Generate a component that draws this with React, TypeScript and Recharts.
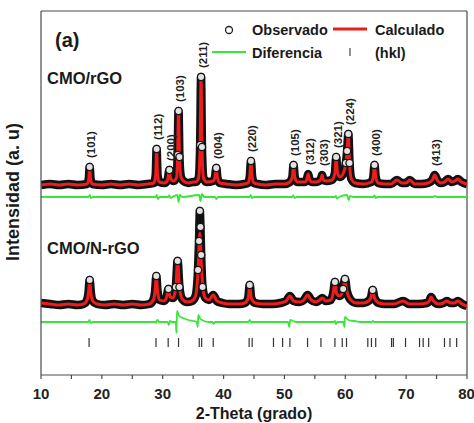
import React from 'react';
import { ComposedChart, Line, Scatter, XAxis, YAxis, ReferenceLine } from 'recharts';

// 2θ (deg) vs. intensity (a. u.) above baseline, CMO/rGO
const obsTop: [number, number][] = [
  [10, 0], [11.5, 1], [13, 0], [14.5, 1], [16, 0], [17.55, 1], [17.85, 6], [18.0, 18], [18.15, 6], [18.45, 1],
  [20, 0], [21.5, 1], [23, 0], [24.5, 1], [26, 0], [27.5, 1], [28.55, 2], [28.85, 10], [29.0, 36], [29.15, 10],
  [29.45, 3], [30.3, 2], [30.8, 5], [31.1, 15], [31.3, 6], [31.8, 4], [32.3, 8], [32.45, 30], [32.6, 74], [32.75, 28],
  [33.0, 8], [33.4, 4], [34.2, 2], [35.0, 3], [35.4, 3], [35.9, 7], [36.15, 40], [36.3, 108], [36.45, 38], [36.7, 7],
  [37.2, 3], [38.3, 4], [38.6, 8], [38.8, 17], [39.0, 7], [39.4, 2], [40.5, 1], [42, 0], [43.4, 1], [44.0, 2],
  [44.3, 8], [44.5, 24], [44.7, 8], [45.0, 2], [45.6, 1], [47, 0], [48.5, 1], [50, 1], [50.9, 3], [51.3, 8],
  [51.5, 20], [51.7, 8], [52.1, 3], [53.0, 3], [53.4, 3], [53.7, 6], [53.9, 11], [54.1, 6], [54.5, 3], [55.2, 3],
  [55.7, 4], [56.0, 6], [56.2, 10], [56.4, 5], [56.9, 4], [57.8, 5], [58.3, 12], [58.5, 28], [58.7, 13], [59.1, 8],
  [59.7, 12], [60.1, 22], [60.3, 34], [60.5, 51], [60.7, 22], [61.0, 6], [61.6, 2], [63, 1], [64.3, 3], [64.6, 8],
  [64.8, 20], [65.0, 8], [65.4, 2], [66.5, 1], [67.5, 1], [68.5, 5], [69.3, 2], [70.0, 2], [70.6, 5], [71.4, 1],
  [72.5, 1], [73.6, 2], [74.3, 5], [74.7, 10], [75.1, 5], [75.7, 2], [76.3, 3], [76.9, 6], [77.5, 3], [78.0, 4],
  [78.5, 6], [79.1, 3], [80, 1],
];
// the refined profile sits on top of the observed one for this sample
const calcTop = obsTop;

const diffTop: [number, number][] = [
  [10, 0], [17.8, 0], [18.0, 2], [18.2, -1], [18.5, 0], [28.8, 0], [29.0, 2], [29.2, -2], [29.5, 0], [30.9, 0],
  [31.1, 1.5], [31.3, -1], [31.6, 0], [32.4, 2], [32.6, -5], [32.8, 2], [33.2, 0], [36.0, 2], [36.2, -4], [36.45, 3],
  [36.8, 0], [38.6, 0], [38.8, -2], [39.1, 0], [44.3, 0], [44.45, 2], [44.65, -1], [45, 0], [51.3, 0], [51.45, 1.5],
  [51.7, -1], [52, 0], [58.3, 0], [58.45, 1], [58.65, -1.5], [59, 0], [60.3, 2], [60.55, -3], [60.8, 1], [61.3, 0],
  [64.6, 0], [64.8, 1.5], [65.0, -1], [65.3, 0], [74.5, 0], [74.7, 1], [75, 0], [80, 0],
];

// CMO/N-rGO
const obsBot: [number, number][] = [
  [10, 2], [11.5, 1], [13, 0], [14.5, 1], [16, 0], [17.0, 1], [17.5, 4], [17.8, 12], [18.0, 25], [18.2, 12],
  [18.5, 4], [19.2, 1], [20.5, 0], [22, 1], [23.5, 0], [25, 1], [26.5, 0], [27.8, 1], [28.45, 5], [28.75, 14],
  [28.95, 29], [29.15, 14], [29.5, 5], [30.2, 4], [30.6, 7], [30.95, 16], [31.25, 8], [31.7, 7], [32.15, 18], [32.45, 44],
  [32.75, 18], [33.2, 6], [34.0, 3], [34.8, 4], [35.4, 9], [35.8, 35], [35.97, 64], [36.1, 94], [36.2, 78], [36.32, 50],
  [36.55, 18], [37.0, 7], [37.6, 5], [38.3, 10], [38.9, 4], [39.8, 2], [41, 1], [42.5, 1], [43.5, 2], [44.05, 7],
  [44.3, 20], [44.55, 7], [45.2, 2], [46.5, 1], [48, 1], [49.3, 2], [50.3, 4], [50.9, 9], [51.5, 4], [52.5, 3],
  [53.2, 5], [53.8, 10], [54.4, 5], [55.2, 3], [55.8, 5], [56.2, 7], [56.8, 4], [57.6, 5], [58.05, 13], [58.3, 23],
  [58.6, 11], [59.1, 9], [59.65, 16], [59.95, 26], [60.25, 14], [60.9, 5], [61.8, 2], [63, 2], [63.8, 4], [64.25, 8],
  [64.5, 15], [64.8, 7], [65.5, 2], [66.5, 1], [68, 1], [69.5, 4], [70.5, 1], [72, 1], [73.4, 2], [73.8, 4],
  [74.1, 8], [74.5, 4], [75.3, 1], [76.1, 2], [76.7, 4], [77.3, 2], [77.9, 2], [78.5, 4], [79.2, 1], [80, -1],
];
// refined (211) reflection falls short of the observed maximum
const calcBot211: [number, number][] = [
  [35.4, 9], [35.8, 33], [36.1, 72], [36.38, 36], [36.7, 13], [37.0, 7],
];
const calcBot: [number, number][] = [
  ...obsBot.filter(([t]) => t < 35.4),
  ...calcBot211,
  ...obsBot.filter(([t]) => t > 37.0),
];

const diffBot: [number, number][] = [
  [10, 0], [17.8, 0], [17.95, 2], [18.15, -1], [18.5, 0], [28.7, 0], [28.9, -1], [29.1, 2], [29.4, 0], [30.8, 0],
  [31.0, -3], [31.2, 1], [31.5, 0], [32.15, 0], [32.25, -11], [32.35, 11], [32.7, 6], [33.3, 4], [34.2, 2], [35.0, 1],
  [35.6, 0], [35.75, -5], [35.85, 7], [36.2, 3], [36.8, 1], [37.5, 0], [38.2, 0], [38.35, -2], [38.6, 0], [44.1, 0],
  [44.3, 2], [44.5, 0], [50.6, 0], [50.8, -5], [50.95, 2], [51.4, 1], [52.0, 0], [58.1, 0], [58.3, 1], [58.45, -2],
  [58.7, 0], [59.7, 0], [59.85, -5], [59.95, 5], [60.5, 2], [61.5, 1], [62.5, 0], [64.4, 0], [64.55, 1], [64.75, 0],
  [80, 0],
];

// Bragg positions
const hklTicks = [
  17.9, 28.9, 30.9, 32.6, 36.0, 36.4, 38.3, 44.2, 44.7, 48.2, 49.7, 50.9, 53.8, 56.0, 58.3,
  59.5, 60.2, 63.7, 64.3, 65.0, 67.6, 67.9, 69.9, 72.2, 72.8, 73.7, 76.3, 77.2, 78.3,
];

const hklNames = ['(101)', '(112)', '(200)', '(103)', '(211)', '(004)', '(220)', '(105)', '(312)', '(303)', '(321)', '(224)', '(400)', '(413)'];
const hklAt = [18.0, 29.0, 31.1, 32.6, 36.3, 38.8, 44.5, 51.5, 53.9, 56.2, 58.5, 60.5, 64.8, 74.7];

const xTicks = [10, 15, 20, 25, 30, 35, 40, 45, 50, 55, 60, 65, 70, 75, 80];

// vertical stacking of the two patterns and their difference curves
const TOP_SHIFT = 190;
const TOP_DIFF_SHIFT = 178;
const BOT_SHIFT = 70;
const BOT_DIFF_SHIFT = 53;
const HKL_LEVEL = 32.5;
const LABEL_GAP = 9;

const FONT = '"Liberation Sans", Arial, sans-serif';
const RED = '#ee1c1c';
const GREEN = '#38e638';
const AXIS = '#4a4a4a';

const rows = (pts: [number, number][], shift: number) => pts.map(([t, v]) => ({ t, v: v + shift }));

const obsTopRows = rows(obsTop, TOP_SHIFT);
const calcTopRows = rows(calcTop, TOP_SHIFT);
const diffTopRows = rows(diffTop, TOP_DIFF_SHIFT);
const obsBotRows = rows(obsBot, BOT_SHIFT);
const calcBotRows = rows(calcBot, BOT_SHIFT);
const diffBotRows = rows(diffBot, BOT_DIFF_SHIFT);
const hklRows = hklTicks.map((t) => ({ t, v: HKL_LEVEL }));

const labelRows = hklNames.map((name, i) => {
  const near = obsTop.filter(([t]) => Math.abs(t - hklAt[i]) < 0.25).map(([, v]) => v);
  return { t: hklAt[i], v: TOP_SHIFT + Math.max(...near) + LABEL_GAP, name };
});

// hollow markers for the observed points around the reflections
const obsDot = (shift: number) => (p: any) => {
  const key = `o-${shift}-${p.index}`;
  if (p.payload.v - shift < 15) return <g key={key} />;
  return <circle key={key} cx={p.cx} cy={p.cy} r={3.6} fill="#e2e2e2" stroke="#161616" strokeWidth={1.3} />;
};

const HklMark = (p: any) => (
  <line x1={p.cx} x2={p.cx} y1={p.cy - 4.5} y2={p.cy + 4.5} stroke="#333" strokeWidth={1.2} />
);

const PeakLabel = (p: any) => {
  const x = p.cx + 1.5;
  return (
    <text
      x={x}
      y={p.cy}
      transform={`rotate(-90 ${x} ${p.cy})`}
      textAnchor="start"
      dominantBaseline="central"
      fontFamily={FONT}
      fontSize={11.5}
      fontWeight="bold"
      fill="#222"
    >
      {p.payload.name}
    </text>
  );
};

const App = () => {
  return (
    <div style={{ position: 'absolute', left: 0, top: 0, width: 474, height: 423, background: '#fff' }}>
      <ComposedChart width={474} height={423} margin={{ top: 11, right: 7, bottom: 0, left: 0 }}>
        <XAxis
          dataKey="t"
          type="number"
          domain={[10, 80]}
          ticks={xTicks}
          tickFormatter={(v: number) => (v % 10 === 0 ? String(v) : '')}
          height={48}
          tickSize={4}
          tickMargin={9}
          stroke={AXIS}
          strokeWidth={1.2}
          tick={{ fontFamily: FONT, fontSize: 15, fontWeight: 'bold', fill: '#222' }}
          allowDataOverflow
        />
        <YAxis type="number" domain={[0, 364]} width={41} tick={false} tickLine={false} stroke={AXIS} strokeWidth={1.2} allowDataOverflow />
        <ReferenceLine y={364} stroke={AXIS} strokeWidth={1.2} />
        <ReferenceLine x={80} stroke={AXIS} strokeWidth={1.2} />

        <Line data={diffTopRows} dataKey="v" type="monotone" stroke={GREEN} strokeWidth={1.8} dot={false} isAnimationActive={false} />
        <Line data={obsTopRows} dataKey="v" type="monotone" stroke="#111" strokeWidth={8.5} strokeLinejoin="round" dot={obsDot(TOP_SHIFT)} isAnimationActive={false} />
        <Line data={calcTopRows} dataKey="v" type="monotone" stroke={RED} strokeWidth={3} dot={false} isAnimationActive={false} />

        <Line data={diffBotRows} dataKey="v" type="monotone" stroke={GREEN} strokeWidth={1.8} dot={false} isAnimationActive={false} />
        <Line data={obsBotRows} dataKey="v" type="monotone" stroke="#111" strokeWidth={8.5} strokeLinejoin="round" dot={obsDot(BOT_SHIFT)} isAnimationActive={false} />
        <Line data={calcBotRows} dataKey="v" type="monotone" stroke={RED} strokeWidth={3} dot={false} isAnimationActive={false} />

        <Scatter data={hklRows} dataKey="v" shape={HklMark} isAnimationActive={false} />
        <Scatter data={labelRows} dataKey="v" shape={PeakLabel} isAnimationActive={false} />
      </ComposedChart>

      <svg width={474} height={423} style={{ position: 'absolute', left: 0, top: 0, pointerEvents: 'none' }} fontFamily={FONT} fontWeight="bold" fill="#1a1a1a">
        <text x={55} y={47} fontSize={20}>(a)</text>
        <text x={47} y={84} fontSize={16.5}>CMO/rGO</text>
        <text x={47} y={254} fontSize={16.5}>CMO/N-rGO</text>

        <circle cx={229} cy={30} r={3.5} fill="none" stroke="#222" strokeWidth={1.3} />
        <text x={252} y={35} fontSize={14.5}>Observado</text>
        <line x1={333} x2={367} y1={29} y2={29} stroke={RED} strokeWidth={3} />
        <text x={375} y={35} fontSize={14.5}>Calculado</text>
        <line x1={212} x2={246} y1={52} y2={52} stroke={GREEN} strokeWidth={2} />
        <text x={252} y={58} fontSize={14.5}>Diferencia</text>
        <line x1={350} x2={350} y1={48} y2={56} stroke="#444" strokeWidth={1.2} />
        <text x={375} y={58} fontSize={14.5}>(hkl)</text>

        <text x={19} y={192} fontSize={18} textAnchor="middle" transform="rotate(-90 19 192)">Intensidad (a. u)</text>
        <text x={254} y={419} fontSize={16} textAnchor="middle">2-Theta (grado)</text>
      </svg>
    </div>
  );
};

export default App;
